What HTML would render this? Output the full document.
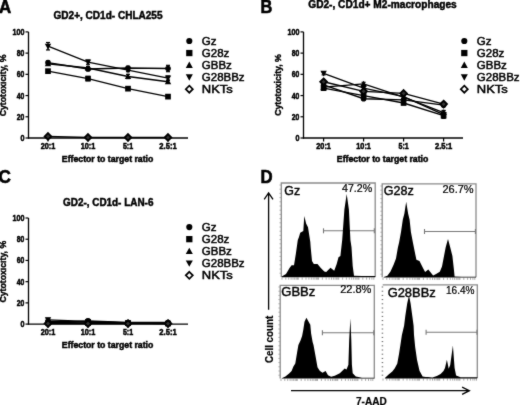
<!DOCTYPE html>
<html><head><meta charset="utf-8"><style>
html,body{margin:0;padding:0;background:#fff;}
body{width:520px;height:405px;overflow:hidden;}
svg{display:block;font-family:"Liberation Sans",sans-serif;}
</style></head><body>
<svg width="520" height="405" viewBox="0 0 520 405">
<defs><filter id="soft" color-interpolation-filters="sRGB" filterUnits="userSpaceOnUse" x="0" y="0" width="520" height="405"><feConvolveMatrix order="3" kernelMatrix="0.02 0.07 0.02 0.07 0.64 0.07 0.02 0.07 0.02" divisor="1" edgeMode="duplicate" preserveAlpha="false"/></filter></defs>
<g filter="url(#soft)">
<rect width="520" height="405" fill="#fff"/>
<text x="-1.0" y="12.6" font-size="18" font-weight="bold" text-anchor="start" textLength="12.2" lengthAdjust="spacingAndGlyphs" stroke="#000" stroke-width="0.6">A</text>
<text x="260.5" y="12.5" font-size="18" font-weight="bold" text-anchor="start" textLength="11.8" lengthAdjust="spacingAndGlyphs" stroke="#000" stroke-width="0.6">B</text>
<text x="-1.4" y="182.6" font-size="18" font-weight="bold" text-anchor="start" textLength="12.4" lengthAdjust="spacingAndGlyphs" stroke="#000" stroke-width="0.6">C</text>
<text x="260.4" y="182.6" font-size="18" font-weight="bold" text-anchor="start" textLength="12.1" lengthAdjust="spacingAndGlyphs" stroke="#000" stroke-width="0.6">D</text>
<text x="108.0" y="18.8" font-size="10.2" font-weight="bold" text-anchor="middle" textLength="109.0" lengthAdjust="spacingAndGlyphs" stroke="#000" stroke-width="0.45">GD2+, CD1d- CHLA255</text>
<line x1="28.5" y1="31.90" x2="28.5" y2="138.60" stroke="#000" stroke-width="1.3"/>
<line x1="25.5" y1="138.00" x2="28.5" y2="138.00" stroke="#000" stroke-width="1.2"/>
<text x="24.4" y="141.00" font-size="8.5" font-weight="bold" text-anchor="end" textLength="4.0" lengthAdjust="spacingAndGlyphs" stroke="#000" stroke-width="0.5">0</text>
<line x1="25.5" y1="116.78" x2="28.5" y2="116.78" stroke="#000" stroke-width="1.2"/>
<text x="24.4" y="119.78" font-size="8.5" font-weight="bold" text-anchor="end" textLength="7.6" lengthAdjust="spacingAndGlyphs" stroke="#000" stroke-width="0.5">20</text>
<line x1="25.5" y1="95.56" x2="28.5" y2="95.56" stroke="#000" stroke-width="1.2"/>
<text x="24.4" y="98.56" font-size="8.5" font-weight="bold" text-anchor="end" textLength="7.6" lengthAdjust="spacingAndGlyphs" stroke="#000" stroke-width="0.5">40</text>
<line x1="25.5" y1="74.34" x2="28.5" y2="74.34" stroke="#000" stroke-width="1.2"/>
<text x="24.4" y="77.34" font-size="8.5" font-weight="bold" text-anchor="end" textLength="7.6" lengthAdjust="spacingAndGlyphs" stroke="#000" stroke-width="0.5">60</text>
<line x1="25.5" y1="53.12" x2="28.5" y2="53.12" stroke="#000" stroke-width="1.2"/>
<text x="24.4" y="56.12" font-size="8.5" font-weight="bold" text-anchor="end" textLength="7.6" lengthAdjust="spacingAndGlyphs" stroke="#000" stroke-width="0.5">80</text>
<line x1="25.5" y1="31.90" x2="28.5" y2="31.90" stroke="#000" stroke-width="1.2"/>
<text x="24.4" y="34.90" font-size="8.5" font-weight="bold" text-anchor="end" textLength="11.9" lengthAdjust="spacingAndGlyphs" stroke="#000" stroke-width="0.5">100</text>
<line x1="27.9" y1="138.00" x2="188" y2="138.00" stroke="#000" stroke-width="1.3"/>
<line x1="48.0" y1="138.00" x2="48.0" y2="141.40" stroke="#000" stroke-width="1.2"/>
<text x="48.0" y="149.20" font-size="8.3" font-weight="bold" text-anchor="middle" textLength="14.6" lengthAdjust="spacingAndGlyphs" stroke="#000" stroke-width="0.5">20:1</text>
<line x1="88.0" y1="138.00" x2="88.0" y2="141.40" stroke="#000" stroke-width="1.2"/>
<text x="88.0" y="149.20" font-size="8.3" font-weight="bold" text-anchor="middle" textLength="14.6" lengthAdjust="spacingAndGlyphs" stroke="#000" stroke-width="0.5">10:1</text>
<line x1="128.0" y1="138.00" x2="128.0" y2="141.40" stroke="#000" stroke-width="1.2"/>
<text x="128.0" y="149.20" font-size="8.3" font-weight="bold" text-anchor="middle" textLength="10.2" lengthAdjust="spacingAndGlyphs" stroke="#000" stroke-width="0.5">5:1</text>
<line x1="168.0" y1="138.00" x2="168.0" y2="141.40" stroke="#000" stroke-width="1.2"/>
<text x="168.0" y="149.20" font-size="8.3" font-weight="bold" text-anchor="middle" textLength="17.3" lengthAdjust="spacingAndGlyphs" stroke="#000" stroke-width="0.5">2.5:1</text>
<text x="107.6" y="161.50" font-size="8.7" font-weight="bold" text-anchor="middle" textLength="91.5" lengthAdjust="spacingAndGlyphs" stroke="#000" stroke-width="0.48">Effector to target ratio</text>
<text x="0" y="0" font-size="9.5" font-weight="bold" text-anchor="middle" textLength="61.7" lengthAdjust="spacingAndGlyphs" stroke="#000" stroke-width="0.42" transform="translate(6.40,85.45) rotate(-90)">Cytotoxicity, %</text>
<polyline points="48.0,62.67 88.0,69.03 128.0,67.97 168.0,68.50" fill="none" stroke="#000" stroke-width="1.35"/>
<polyline points="48.0,71.16 88.0,78.58 128.0,88.66 168.0,96.62" fill="none" stroke="#000" stroke-width="1.35"/>
<polyline points="48.0,63.73 88.0,67.97 128.0,76.46 168.0,81.77" fill="none" stroke="#000" stroke-width="1.35"/>
<polyline points="48.0,46.22 88.0,62.14 128.0,70.10 168.0,78.05" fill="none" stroke="#000" stroke-width="1.35"/>
<polyline points="48.0,136.41 88.0,137.47 128.0,137.47 168.0,137.47" fill="none" stroke="#000" stroke-width="1.35"/>
<line x1="48.0" y1="61.08" x2="48.0" y2="64.26" stroke="#000" stroke-width="1.3"/>
<line x1="46.0" y1="61.08" x2="50.0" y2="61.08" stroke="#000" stroke-width="1.2"/>
<line x1="46.0" y1="64.26" x2="50.0" y2="64.26" stroke="#000" stroke-width="1.2"/>
<circle cx="48.0" cy="62.66900000000001" r="2.80" fill="#000"/>
<line x1="88.0" y1="67.44" x2="88.0" y2="70.63" stroke="#000" stroke-width="1.3"/>
<line x1="86.0" y1="67.44" x2="90.0" y2="67.44" stroke="#000" stroke-width="1.2"/>
<line x1="86.0" y1="70.63" x2="90.0" y2="70.63" stroke="#000" stroke-width="1.2"/>
<circle cx="88.0" cy="69.035" r="2.80" fill="#000"/>
<line x1="128.0" y1="66.38" x2="128.0" y2="69.57" stroke="#000" stroke-width="1.3"/>
<line x1="126.0" y1="66.38" x2="130.0" y2="66.38" stroke="#000" stroke-width="1.2"/>
<line x1="126.0" y1="69.57" x2="130.0" y2="69.57" stroke="#000" stroke-width="1.2"/>
<circle cx="128.0" cy="67.974" r="2.80" fill="#000"/>
<line x1="168.0" y1="65.32" x2="168.0" y2="71.69" stroke="#000" stroke-width="1.3"/>
<line x1="166.0" y1="65.32" x2="170.0" y2="65.32" stroke="#000" stroke-width="1.2"/>
<line x1="166.0" y1="71.69" x2="170.0" y2="71.69" stroke="#000" stroke-width="1.2"/>
<circle cx="168.0" cy="68.50450000000001" r="2.80" fill="#000"/>
<line x1="48.0" y1="69.57" x2="48.0" y2="72.75" stroke="#000" stroke-width="1.3"/>
<line x1="46.0" y1="69.57" x2="50.0" y2="69.57" stroke="#000" stroke-width="1.2"/>
<line x1="46.0" y1="72.75" x2="50.0" y2="72.75" stroke="#000" stroke-width="1.2"/>
<rect x="45.15" y="68.31" width="5.70" height="5.70" fill="#000"/>
<line x1="88.0" y1="76.46" x2="88.0" y2="80.71" stroke="#000" stroke-width="1.3"/>
<line x1="86.0" y1="76.46" x2="90.0" y2="76.46" stroke="#000" stroke-width="1.2"/>
<line x1="86.0" y1="80.71" x2="90.0" y2="80.71" stroke="#000" stroke-width="1.2"/>
<rect x="85.15" y="75.73" width="5.70" height="5.70" fill="#000"/>
<line x1="128.0" y1="87.60" x2="128.0" y2="89.72" stroke="#000" stroke-width="1.3"/>
<line x1="126.0" y1="87.60" x2="130.0" y2="87.60" stroke="#000" stroke-width="1.2"/>
<line x1="126.0" y1="89.72" x2="130.0" y2="89.72" stroke="#000" stroke-width="1.2"/>
<rect x="125.15" y="85.81" width="5.70" height="5.70" fill="#000"/>
<line x1="168.0" y1="95.56" x2="168.0" y2="97.68" stroke="#000" stroke-width="1.3"/>
<line x1="166.0" y1="95.56" x2="170.0" y2="95.56" stroke="#000" stroke-width="1.2"/>
<line x1="166.0" y1="97.68" x2="170.0" y2="97.68" stroke="#000" stroke-width="1.2"/>
<rect x="165.15" y="93.77" width="5.70" height="5.70" fill="#000"/>
<line x1="48.0" y1="62.14" x2="48.0" y2="65.32" stroke="#000" stroke-width="1.3"/>
<line x1="46.0" y1="62.14" x2="50.0" y2="62.14" stroke="#000" stroke-width="1.2"/>
<line x1="46.0" y1="65.32" x2="50.0" y2="65.32" stroke="#000" stroke-width="1.2"/>
<path d="M48.00 60.53L51.20 66.29L44.80 66.29Z" fill="#000"/>
<line x1="88.0" y1="66.38" x2="88.0" y2="69.57" stroke="#000" stroke-width="1.3"/>
<line x1="86.0" y1="66.38" x2="90.0" y2="66.38" stroke="#000" stroke-width="1.2"/>
<line x1="86.0" y1="69.57" x2="90.0" y2="69.57" stroke="#000" stroke-width="1.2"/>
<path d="M88.00 64.77L91.20 70.53L84.80 70.53Z" fill="#000"/>
<line x1="128.0" y1="74.34" x2="128.0" y2="78.58" stroke="#000" stroke-width="1.3"/>
<line x1="126.0" y1="74.34" x2="130.0" y2="74.34" stroke="#000" stroke-width="1.2"/>
<line x1="126.0" y1="78.58" x2="130.0" y2="78.58" stroke="#000" stroke-width="1.2"/>
<path d="M128.00 73.26L131.20 79.02L124.80 79.02Z" fill="#000"/>
<line x1="168.0" y1="80.18" x2="168.0" y2="83.36" stroke="#000" stroke-width="1.3"/>
<line x1="166.0" y1="80.18" x2="170.0" y2="80.18" stroke="#000" stroke-width="1.2"/>
<line x1="166.0" y1="83.36" x2="170.0" y2="83.36" stroke="#000" stroke-width="1.2"/>
<path d="M168.00 78.57L171.20 84.33L164.80 84.33Z" fill="#000"/>
<line x1="48.0" y1="42.51" x2="48.0" y2="49.94" stroke="#000" stroke-width="1.3"/>
<line x1="46.0" y1="42.51" x2="50.0" y2="42.51" stroke="#000" stroke-width="1.2"/>
<line x1="46.0" y1="49.94" x2="50.0" y2="49.94" stroke="#000" stroke-width="1.2"/>
<path d="M48.00 49.42L51.20 43.66L44.80 43.66Z" fill="#000"/>
<line x1="88.0" y1="60.02" x2="88.0" y2="64.26" stroke="#000" stroke-width="1.3"/>
<line x1="86.0" y1="60.02" x2="90.0" y2="60.02" stroke="#000" stroke-width="1.2"/>
<line x1="86.0" y1="64.26" x2="90.0" y2="64.26" stroke="#000" stroke-width="1.2"/>
<path d="M88.00 65.34L91.20 59.58L84.80 59.58Z" fill="#000"/>
<line x1="128.0" y1="68.50" x2="128.0" y2="71.69" stroke="#000" stroke-width="1.3"/>
<line x1="126.0" y1="68.50" x2="130.0" y2="68.50" stroke="#000" stroke-width="1.2"/>
<line x1="126.0" y1="71.69" x2="130.0" y2="71.69" stroke="#000" stroke-width="1.2"/>
<path d="M128.00 73.30L131.20 67.54L124.80 67.54Z" fill="#000"/>
<line x1="168.0" y1="75.93" x2="168.0" y2="80.18" stroke="#000" stroke-width="1.3"/>
<line x1="166.0" y1="75.93" x2="170.0" y2="75.93" stroke="#000" stroke-width="1.2"/>
<line x1="166.0" y1="80.18" x2="170.0" y2="80.18" stroke="#000" stroke-width="1.2"/>
<path d="M168.00 81.25L171.20 75.49L164.80 75.49Z" fill="#000"/>
<path d="M48.00 133.11L51.30 136.41L48.00 139.71L44.70 136.41Z" fill="#333" stroke="#000" stroke-width="1.9"/>
<path d="M88.00 134.17L91.30 137.47L88.00 140.77L84.70 137.47Z" fill="#333" stroke="#000" stroke-width="1.9"/>
<path d="M128.00 134.17L131.30 137.47L128.00 140.77L124.70 137.47Z" fill="#333" stroke="#000" stroke-width="1.9"/>
<path d="M168.00 134.17L171.30 137.47L168.00 140.77L164.70 137.47Z" fill="#333" stroke="#000" stroke-width="1.9"/>
<circle cx="189.3" cy="41.0" r="3.08" fill="#000"/>
<text x="201.8" y="45.00" font-size="11.5" text-anchor="start" stroke="#000" stroke-width="0.48">Gz</text>
<rect x="186.17" y="49.91" width="6.27" height="6.27" fill="#000"/>
<text x="201.8" y="57.05" font-size="11.5" text-anchor="start" stroke="#000" stroke-width="0.48">G28z</text>
<path d="M189.30 61.58L192.82 67.92L185.78 67.92Z" fill="#000"/>
<text x="201.8" y="69.10" font-size="11.5" text-anchor="start" stroke="#000" stroke-width="0.48">GBBz</text>
<path d="M189.30 80.67L192.82 74.33L185.78 74.33Z" fill="#000"/>
<text x="201.8" y="81.15" font-size="11.5" text-anchor="start" stroke="#000" stroke-width="0.48">G28BBz</text>
<path d="M189.30 85.68L192.82 89.20L189.30 92.72L185.78 89.20Z" fill="#fff" stroke="#000" stroke-width="1.7"/>
<text x="201.8" y="93.20" font-size="11.5" text-anchor="start" textLength="31.0" lengthAdjust="spacingAndGlyphs" stroke="#000" stroke-width="0.48">NKTs</text>
<text x="382.5" y="8.0" font-size="10.2" font-weight="bold" text-anchor="middle" textLength="148.5" lengthAdjust="spacingAndGlyphs" stroke="#000" stroke-width="0.45">GD2-, CD1d+ M2-macrophages</text>
<line x1="303.5" y1="31.90" x2="303.5" y2="138.60" stroke="#000" stroke-width="1.3"/>
<line x1="300.5" y1="138.00" x2="303.5" y2="138.00" stroke="#000" stroke-width="1.2"/>
<text x="299.4" y="141.00" font-size="8.5" font-weight="bold" text-anchor="end" textLength="4.0" lengthAdjust="spacingAndGlyphs" stroke="#000" stroke-width="0.5">0</text>
<line x1="300.5" y1="116.78" x2="303.5" y2="116.78" stroke="#000" stroke-width="1.2"/>
<text x="299.4" y="119.78" font-size="8.5" font-weight="bold" text-anchor="end" textLength="7.6" lengthAdjust="spacingAndGlyphs" stroke="#000" stroke-width="0.5">20</text>
<line x1="300.5" y1="95.56" x2="303.5" y2="95.56" stroke="#000" stroke-width="1.2"/>
<text x="299.4" y="98.56" font-size="8.5" font-weight="bold" text-anchor="end" textLength="7.6" lengthAdjust="spacingAndGlyphs" stroke="#000" stroke-width="0.5">40</text>
<line x1="300.5" y1="74.34" x2="303.5" y2="74.34" stroke="#000" stroke-width="1.2"/>
<text x="299.4" y="77.34" font-size="8.5" font-weight="bold" text-anchor="end" textLength="7.6" lengthAdjust="spacingAndGlyphs" stroke="#000" stroke-width="0.5">60</text>
<line x1="300.5" y1="53.12" x2="303.5" y2="53.12" stroke="#000" stroke-width="1.2"/>
<text x="299.4" y="56.12" font-size="8.5" font-weight="bold" text-anchor="end" textLength="7.6" lengthAdjust="spacingAndGlyphs" stroke="#000" stroke-width="0.5">80</text>
<line x1="300.5" y1="31.90" x2="303.5" y2="31.90" stroke="#000" stroke-width="1.2"/>
<text x="299.4" y="34.90" font-size="8.5" font-weight="bold" text-anchor="end" textLength="11.9" lengthAdjust="spacingAndGlyphs" stroke="#000" stroke-width="0.5">100</text>
<line x1="302.9" y1="138.00" x2="463" y2="138.00" stroke="#000" stroke-width="1.3"/>
<line x1="323.6" y1="138.00" x2="323.6" y2="141.40" stroke="#000" stroke-width="1.2"/>
<text x="323.6" y="149.20" font-size="8.3" font-weight="bold" text-anchor="middle" textLength="14.6" lengthAdjust="spacingAndGlyphs" stroke="#000" stroke-width="0.5">20:1</text>
<line x1="363.6" y1="138.00" x2="363.6" y2="141.40" stroke="#000" stroke-width="1.2"/>
<text x="363.6" y="149.20" font-size="8.3" font-weight="bold" text-anchor="middle" textLength="14.6" lengthAdjust="spacingAndGlyphs" stroke="#000" stroke-width="0.5">10:1</text>
<line x1="403.6" y1="138.00" x2="403.6" y2="141.40" stroke="#000" stroke-width="1.2"/>
<text x="403.6" y="149.20" font-size="8.3" font-weight="bold" text-anchor="middle" textLength="10.2" lengthAdjust="spacingAndGlyphs" stroke="#000" stroke-width="0.5">5:1</text>
<line x1="443.6" y1="138.00" x2="443.6" y2="141.40" stroke="#000" stroke-width="1.2"/>
<text x="443.6" y="149.20" font-size="8.3" font-weight="bold" text-anchor="middle" textLength="17.3" lengthAdjust="spacingAndGlyphs" stroke="#000" stroke-width="0.5">2.5:1</text>
<text x="382.6" y="161.50" font-size="8.7" font-weight="bold" text-anchor="middle" textLength="91.5" lengthAdjust="spacingAndGlyphs" stroke="#000" stroke-width="0.48">Effector to target ratio</text>
<text x="0" y="0" font-size="9.5" font-weight="bold" text-anchor="middle" textLength="61.7" lengthAdjust="spacingAndGlyphs" stroke="#000" stroke-width="0.42" transform="translate(281.40,85.00) rotate(-90)">Cytotoxicity, %</text>
<polyline points="323.6,84.95 363.6,98.74 403.6,99.80 443.6,105.11" fill="none" stroke="#000" stroke-width="1.35"/>
<polyline points="323.6,88.13 363.6,95.56 403.6,102.99 443.6,115.72" fill="none" stroke="#000" stroke-width="1.35"/>
<polyline points="323.6,87.07 363.6,83.89 403.6,97.15 443.6,112.54" fill="none" stroke="#000" stroke-width="1.35"/>
<polyline points="323.6,73.28 363.6,88.13 403.6,96.62 443.6,114.66" fill="none" stroke="#000" stroke-width="1.35"/>
<polyline points="323.6,81.77 363.6,91.32 403.6,93.44 443.6,104.05" fill="none" stroke="#000" stroke-width="1.35"/>
<line x1="323.6" y1="82.83" x2="323.6" y2="87.07" stroke="#000" stroke-width="1.3"/>
<line x1="321.6" y1="82.83" x2="325.6" y2="82.83" stroke="#000" stroke-width="1.2"/>
<line x1="321.6" y1="87.07" x2="325.6" y2="87.07" stroke="#000" stroke-width="1.2"/>
<circle cx="323.6" cy="84.95" r="2.80" fill="#000"/>
<line x1="363.6" y1="97.15" x2="363.6" y2="100.33" stroke="#000" stroke-width="1.3"/>
<line x1="361.6" y1="97.15" x2="365.6" y2="97.15" stroke="#000" stroke-width="1.2"/>
<line x1="361.6" y1="100.33" x2="365.6" y2="100.33" stroke="#000" stroke-width="1.2"/>
<circle cx="363.6" cy="98.743" r="2.80" fill="#000"/>
<line x1="403.6" y1="98.21" x2="403.6" y2="101.40" stroke="#000" stroke-width="1.3"/>
<line x1="401.6" y1="98.21" x2="405.6" y2="98.21" stroke="#000" stroke-width="1.2"/>
<line x1="401.6" y1="101.40" x2="405.6" y2="101.40" stroke="#000" stroke-width="1.2"/>
<circle cx="403.6" cy="99.804" r="2.80" fill="#000"/>
<line x1="443.6" y1="103.52" x2="443.6" y2="106.70" stroke="#000" stroke-width="1.3"/>
<line x1="441.6" y1="103.52" x2="445.6" y2="103.52" stroke="#000" stroke-width="1.2"/>
<line x1="441.6" y1="106.70" x2="445.6" y2="106.70" stroke="#000" stroke-width="1.2"/>
<circle cx="443.6" cy="105.10900000000001" r="2.80" fill="#000"/>
<line x1="323.6" y1="86.01" x2="323.6" y2="90.25" stroke="#000" stroke-width="1.3"/>
<line x1="321.6" y1="86.01" x2="325.6" y2="86.01" stroke="#000" stroke-width="1.2"/>
<line x1="321.6" y1="90.25" x2="325.6" y2="90.25" stroke="#000" stroke-width="1.2"/>
<rect x="320.75" y="85.28" width="5.70" height="5.70" fill="#000"/>
<line x1="363.6" y1="93.97" x2="363.6" y2="97.15" stroke="#000" stroke-width="1.3"/>
<line x1="361.6" y1="93.97" x2="365.6" y2="93.97" stroke="#000" stroke-width="1.2"/>
<line x1="361.6" y1="97.15" x2="365.6" y2="97.15" stroke="#000" stroke-width="1.2"/>
<rect x="360.75" y="92.71" width="5.70" height="5.70" fill="#000"/>
<line x1="403.6" y1="101.40" x2="403.6" y2="104.58" stroke="#000" stroke-width="1.3"/>
<line x1="401.6" y1="101.40" x2="405.6" y2="101.40" stroke="#000" stroke-width="1.2"/>
<line x1="401.6" y1="104.58" x2="405.6" y2="104.58" stroke="#000" stroke-width="1.2"/>
<rect x="400.75" y="100.14" width="5.70" height="5.70" fill="#000"/>
<line x1="443.6" y1="113.60" x2="443.6" y2="117.84" stroke="#000" stroke-width="1.3"/>
<line x1="441.6" y1="113.60" x2="445.6" y2="113.60" stroke="#000" stroke-width="1.2"/>
<line x1="441.6" y1="117.84" x2="445.6" y2="117.84" stroke="#000" stroke-width="1.2"/>
<rect x="440.75" y="112.87" width="5.70" height="5.70" fill="#000"/>
<line x1="323.6" y1="84.95" x2="323.6" y2="89.19" stroke="#000" stroke-width="1.3"/>
<line x1="321.6" y1="84.95" x2="325.6" y2="84.95" stroke="#000" stroke-width="1.2"/>
<line x1="321.6" y1="89.19" x2="325.6" y2="89.19" stroke="#000" stroke-width="1.2"/>
<path d="M323.60 83.87L326.80 89.63L320.40 89.63Z" fill="#000"/>
<line x1="363.6" y1="82.30" x2="363.6" y2="85.48" stroke="#000" stroke-width="1.3"/>
<line x1="361.6" y1="82.30" x2="365.6" y2="82.30" stroke="#000" stroke-width="1.2"/>
<line x1="361.6" y1="85.48" x2="365.6" y2="85.48" stroke="#000" stroke-width="1.2"/>
<path d="M363.60 80.69L366.80 86.45L360.40 86.45Z" fill="#000"/>
<line x1="403.6" y1="95.56" x2="403.6" y2="98.74" stroke="#000" stroke-width="1.3"/>
<line x1="401.6" y1="95.56" x2="405.6" y2="95.56" stroke="#000" stroke-width="1.2"/>
<line x1="401.6" y1="98.74" x2="405.6" y2="98.74" stroke="#000" stroke-width="1.2"/>
<path d="M403.60 93.95L406.80 99.71L400.40 99.71Z" fill="#000"/>
<line x1="443.6" y1="110.41" x2="443.6" y2="114.66" stroke="#000" stroke-width="1.3"/>
<line x1="441.6" y1="110.41" x2="445.6" y2="110.41" stroke="#000" stroke-width="1.2"/>
<line x1="441.6" y1="114.66" x2="445.6" y2="114.66" stroke="#000" stroke-width="1.2"/>
<path d="M443.60 109.34L446.80 115.10L440.40 115.10Z" fill="#000"/>
<line x1="323.6" y1="71.69" x2="323.6" y2="74.87" stroke="#000" stroke-width="1.3"/>
<line x1="321.6" y1="71.69" x2="325.6" y2="71.69" stroke="#000" stroke-width="1.2"/>
<line x1="321.6" y1="74.87" x2="325.6" y2="74.87" stroke="#000" stroke-width="1.2"/>
<path d="M323.60 76.48L326.80 70.72L320.40 70.72Z" fill="#000"/>
<line x1="363.6" y1="86.01" x2="363.6" y2="90.25" stroke="#000" stroke-width="1.3"/>
<line x1="361.6" y1="86.01" x2="365.6" y2="86.01" stroke="#000" stroke-width="1.2"/>
<line x1="361.6" y1="90.25" x2="365.6" y2="90.25" stroke="#000" stroke-width="1.2"/>
<path d="M363.60 91.33L366.80 85.57L360.40 85.57Z" fill="#000"/>
<line x1="403.6" y1="95.03" x2="403.6" y2="98.21" stroke="#000" stroke-width="1.3"/>
<line x1="401.6" y1="95.03" x2="405.6" y2="95.03" stroke="#000" stroke-width="1.2"/>
<line x1="401.6" y1="98.21" x2="405.6" y2="98.21" stroke="#000" stroke-width="1.2"/>
<path d="M403.60 99.82L406.80 94.06L400.40 94.06Z" fill="#000"/>
<line x1="443.6" y1="110.94" x2="443.6" y2="118.37" stroke="#000" stroke-width="1.3"/>
<line x1="441.6" y1="110.94" x2="445.6" y2="110.94" stroke="#000" stroke-width="1.2"/>
<line x1="441.6" y1="118.37" x2="445.6" y2="118.37" stroke="#000" stroke-width="1.2"/>
<path d="M443.60 117.86L446.80 112.10L440.40 112.10Z" fill="#000"/>
<line x1="323.6" y1="80.18" x2="323.6" y2="83.36" stroke="#000" stroke-width="1.3"/>
<line x1="321.6" y1="80.18" x2="325.6" y2="80.18" stroke="#000" stroke-width="1.2"/>
<line x1="321.6" y1="83.36" x2="325.6" y2="83.36" stroke="#000" stroke-width="1.2"/>
<path d="M323.60 78.47L326.90 81.77L323.60 85.07L320.30 81.77Z" fill="#333" stroke="#000" stroke-width="1.9"/>
<line x1="363.6" y1="89.72" x2="363.6" y2="92.91" stroke="#000" stroke-width="1.3"/>
<line x1="361.6" y1="89.72" x2="365.6" y2="89.72" stroke="#000" stroke-width="1.2"/>
<line x1="361.6" y1="92.91" x2="365.6" y2="92.91" stroke="#000" stroke-width="1.2"/>
<path d="M363.60 88.02L366.90 91.32L363.60 94.62L360.30 91.32Z" fill="#333" stroke="#000" stroke-width="1.9"/>
<line x1="403.6" y1="91.85" x2="403.6" y2="95.03" stroke="#000" stroke-width="1.3"/>
<line x1="401.6" y1="91.85" x2="405.6" y2="91.85" stroke="#000" stroke-width="1.2"/>
<line x1="401.6" y1="95.03" x2="405.6" y2="95.03" stroke="#000" stroke-width="1.2"/>
<path d="M403.60 90.14L406.90 93.44L403.60 96.74L400.30 93.44Z" fill="#333" stroke="#000" stroke-width="1.9"/>
<line x1="443.6" y1="102.46" x2="443.6" y2="105.64" stroke="#000" stroke-width="1.3"/>
<line x1="441.6" y1="102.46" x2="445.6" y2="102.46" stroke="#000" stroke-width="1.2"/>
<line x1="441.6" y1="105.64" x2="445.6" y2="105.64" stroke="#000" stroke-width="1.2"/>
<path d="M443.60 100.75L446.90 104.05L443.60 107.35L440.30 104.05Z" fill="#333" stroke="#000" stroke-width="1.9"/>
<circle cx="464.3" cy="41.0" r="3.08" fill="#000"/>
<text x="476.8" y="45.00" font-size="11.5" text-anchor="start" stroke="#000" stroke-width="0.48">Gz</text>
<rect x="461.17" y="49.91" width="6.27" height="6.27" fill="#000"/>
<text x="476.8" y="57.05" font-size="11.5" text-anchor="start" stroke="#000" stroke-width="0.48">G28z</text>
<path d="M464.30 61.58L467.82 67.92L460.78 67.92Z" fill="#000"/>
<text x="476.8" y="69.10" font-size="11.5" text-anchor="start" stroke="#000" stroke-width="0.48">GBBz</text>
<path d="M464.30 80.67L467.82 74.33L460.78 74.33Z" fill="#000"/>
<text x="476.8" y="81.15" font-size="11.5" text-anchor="start" stroke="#000" stroke-width="0.48">G28BBz</text>
<path d="M464.30 85.68L467.82 89.20L464.30 92.72L460.78 89.20Z" fill="#fff" stroke="#000" stroke-width="1.7"/>
<text x="476.8" y="93.20" font-size="11.5" text-anchor="start" textLength="31.0" lengthAdjust="spacingAndGlyphs" stroke="#000" stroke-width="0.48">NKTs</text>
<text x="108.2" y="205.9" font-size="10.2" font-weight="bold" text-anchor="middle" textLength="90.4" lengthAdjust="spacingAndGlyphs" stroke="#000" stroke-width="0.45">GD2-, CD1d- LAN-6</text>
<line x1="28.5" y1="218.00" x2="28.5" y2="324.70" stroke="#000" stroke-width="1.3"/>
<line x1="25.5" y1="324.10" x2="28.5" y2="324.10" stroke="#000" stroke-width="1.2"/>
<text x="24.4" y="327.10" font-size="8.5" font-weight="bold" text-anchor="end" textLength="4.0" lengthAdjust="spacingAndGlyphs" stroke="#000" stroke-width="0.5">0</text>
<line x1="25.5" y1="302.88" x2="28.5" y2="302.88" stroke="#000" stroke-width="1.2"/>
<text x="24.4" y="305.88" font-size="8.5" font-weight="bold" text-anchor="end" textLength="7.6" lengthAdjust="spacingAndGlyphs" stroke="#000" stroke-width="0.5">20</text>
<line x1="25.5" y1="281.66" x2="28.5" y2="281.66" stroke="#000" stroke-width="1.2"/>
<text x="24.4" y="284.66" font-size="8.5" font-weight="bold" text-anchor="end" textLength="7.6" lengthAdjust="spacingAndGlyphs" stroke="#000" stroke-width="0.5">40</text>
<line x1="25.5" y1="260.44" x2="28.5" y2="260.44" stroke="#000" stroke-width="1.2"/>
<text x="24.4" y="263.44" font-size="8.5" font-weight="bold" text-anchor="end" textLength="7.6" lengthAdjust="spacingAndGlyphs" stroke="#000" stroke-width="0.5">60</text>
<line x1="25.5" y1="239.22" x2="28.5" y2="239.22" stroke="#000" stroke-width="1.2"/>
<text x="24.4" y="242.22" font-size="8.5" font-weight="bold" text-anchor="end" textLength="7.6" lengthAdjust="spacingAndGlyphs" stroke="#000" stroke-width="0.5">80</text>
<line x1="25.5" y1="218.00" x2="28.5" y2="218.00" stroke="#000" stroke-width="1.2"/>
<text x="24.4" y="221.00" font-size="8.5" font-weight="bold" text-anchor="end" textLength="11.9" lengthAdjust="spacingAndGlyphs" stroke="#000" stroke-width="0.5">100</text>
<line x1="27.9" y1="324.10" x2="188" y2="324.10" stroke="#000" stroke-width="1.3"/>
<line x1="48.0" y1="324.10" x2="48.0" y2="327.50" stroke="#000" stroke-width="1.2"/>
<text x="48.0" y="335.30" font-size="8.3" font-weight="bold" text-anchor="middle" textLength="14.6" lengthAdjust="spacingAndGlyphs" stroke="#000" stroke-width="0.5">20:1</text>
<line x1="88.0" y1="324.10" x2="88.0" y2="327.50" stroke="#000" stroke-width="1.2"/>
<text x="88.0" y="335.30" font-size="8.3" font-weight="bold" text-anchor="middle" textLength="14.6" lengthAdjust="spacingAndGlyphs" stroke="#000" stroke-width="0.5">10:1</text>
<line x1="128.0" y1="324.10" x2="128.0" y2="327.50" stroke="#000" stroke-width="1.2"/>
<text x="128.0" y="335.30" font-size="8.3" font-weight="bold" text-anchor="middle" textLength="10.2" lengthAdjust="spacingAndGlyphs" stroke="#000" stroke-width="0.5">5:1</text>
<line x1="168.0" y1="324.10" x2="168.0" y2="327.50" stroke="#000" stroke-width="1.2"/>
<text x="168.0" y="335.30" font-size="8.3" font-weight="bold" text-anchor="middle" textLength="17.3" lengthAdjust="spacingAndGlyphs" stroke="#000" stroke-width="0.5">2.5:1</text>
<text x="107.6" y="347.60" font-size="8.7" font-weight="bold" text-anchor="middle" textLength="91.5" lengthAdjust="spacingAndGlyphs" stroke="#000" stroke-width="0.48">Effector to target ratio</text>
<text x="0" y="0" font-size="9.5" font-weight="bold" text-anchor="middle" textLength="61.7" lengthAdjust="spacingAndGlyphs" stroke="#000" stroke-width="0.42" transform="translate(6.40,271.70) rotate(-90)">Cytotoxicity, %</text>
<polyline points="48.0,323.04 88.0,320.92 128.0,322.51 168.0,322.51" fill="none" stroke="#000" stroke-width="1.35"/>
<polyline points="48.0,322.51 88.0,323.04 128.0,323.04 168.0,323.57" fill="none" stroke="#000" stroke-width="1.35"/>
<polyline points="48.0,321.45 88.0,321.98 128.0,323.04 168.0,323.04" fill="none" stroke="#000" stroke-width="1.35"/>
<polyline points="48.0,319.86 88.0,321.45 128.0,323.04 168.0,323.57" fill="none" stroke="#000" stroke-width="1.35"/>
<polyline points="48.0,323.57 88.0,323.57 128.0,323.57 168.0,323.57" fill="none" stroke="#000" stroke-width="1.35"/>
<line x1="48.0" y1="321.45" x2="48.0" y2="324.63" stroke="#000" stroke-width="1.3"/>
<line x1="46.0" y1="321.45" x2="50.0" y2="321.45" stroke="#000" stroke-width="1.2"/>
<line x1="46.0" y1="324.63" x2="50.0" y2="324.63" stroke="#000" stroke-width="1.2"/>
<circle cx="48.0" cy="323.03900000000004" r="2.80" fill="#000"/>
<line x1="88.0" y1="319.33" x2="88.0" y2="322.51" stroke="#000" stroke-width="1.3"/>
<line x1="86.0" y1="319.33" x2="90.0" y2="319.33" stroke="#000" stroke-width="1.2"/>
<line x1="86.0" y1="322.51" x2="90.0" y2="322.51" stroke="#000" stroke-width="1.2"/>
<circle cx="88.0" cy="320.91700000000003" r="2.80" fill="#000"/>
<line x1="128.0" y1="321.45" x2="128.0" y2="323.57" stroke="#000" stroke-width="1.3"/>
<line x1="126.0" y1="321.45" x2="130.0" y2="321.45" stroke="#000" stroke-width="1.2"/>
<line x1="126.0" y1="323.57" x2="130.0" y2="323.57" stroke="#000" stroke-width="1.2"/>
<circle cx="128.0" cy="322.5085" r="2.80" fill="#000"/>
<line x1="168.0" y1="321.45" x2="168.0" y2="323.57" stroke="#000" stroke-width="1.3"/>
<line x1="166.0" y1="321.45" x2="170.0" y2="321.45" stroke="#000" stroke-width="1.2"/>
<line x1="166.0" y1="323.57" x2="170.0" y2="323.57" stroke="#000" stroke-width="1.2"/>
<circle cx="168.0" cy="322.5085" r="2.80" fill="#000"/>
<line x1="48.0" y1="321.45" x2="48.0" y2="323.57" stroke="#000" stroke-width="1.3"/>
<line x1="46.0" y1="321.45" x2="50.0" y2="321.45" stroke="#000" stroke-width="1.2"/>
<line x1="46.0" y1="323.57" x2="50.0" y2="323.57" stroke="#000" stroke-width="1.2"/>
<rect x="45.15" y="319.66" width="5.70" height="5.70" fill="#000"/>
<line x1="88.0" y1="321.98" x2="88.0" y2="324.10" stroke="#000" stroke-width="1.3"/>
<line x1="86.0" y1="321.98" x2="90.0" y2="321.98" stroke="#000" stroke-width="1.2"/>
<line x1="86.0" y1="324.10" x2="90.0" y2="324.10" stroke="#000" stroke-width="1.2"/>
<rect x="85.15" y="320.19" width="5.70" height="5.70" fill="#000"/>
<line x1="128.0" y1="321.98" x2="128.0" y2="324.10" stroke="#000" stroke-width="1.3"/>
<line x1="126.0" y1="321.98" x2="130.0" y2="321.98" stroke="#000" stroke-width="1.2"/>
<line x1="126.0" y1="324.10" x2="130.0" y2="324.10" stroke="#000" stroke-width="1.2"/>
<rect x="125.15" y="320.19" width="5.70" height="5.70" fill="#000"/>
<line x1="168.0" y1="322.51" x2="168.0" y2="324.63" stroke="#000" stroke-width="1.3"/>
<line x1="166.0" y1="322.51" x2="170.0" y2="322.51" stroke="#000" stroke-width="1.2"/>
<line x1="166.0" y1="324.63" x2="170.0" y2="324.63" stroke="#000" stroke-width="1.2"/>
<rect x="165.15" y="320.72" width="5.70" height="5.70" fill="#000"/>
<line x1="48.0" y1="320.39" x2="48.0" y2="322.51" stroke="#000" stroke-width="1.3"/>
<line x1="46.0" y1="320.39" x2="50.0" y2="320.39" stroke="#000" stroke-width="1.2"/>
<line x1="46.0" y1="322.51" x2="50.0" y2="322.51" stroke="#000" stroke-width="1.2"/>
<path d="M48.00 318.25L51.20 324.01L44.80 324.01Z" fill="#000"/>
<line x1="88.0" y1="320.92" x2="88.0" y2="323.04" stroke="#000" stroke-width="1.3"/>
<line x1="86.0" y1="320.92" x2="90.0" y2="320.92" stroke="#000" stroke-width="1.2"/>
<line x1="86.0" y1="323.04" x2="90.0" y2="323.04" stroke="#000" stroke-width="1.2"/>
<path d="M88.00 318.78L91.20 324.54L84.80 324.54Z" fill="#000"/>
<line x1="128.0" y1="321.98" x2="128.0" y2="324.10" stroke="#000" stroke-width="1.3"/>
<line x1="126.0" y1="321.98" x2="130.0" y2="321.98" stroke="#000" stroke-width="1.2"/>
<line x1="126.0" y1="324.10" x2="130.0" y2="324.10" stroke="#000" stroke-width="1.2"/>
<path d="M128.00 319.84L131.20 325.60L124.80 325.60Z" fill="#000"/>
<line x1="168.0" y1="321.98" x2="168.0" y2="324.10" stroke="#000" stroke-width="1.3"/>
<line x1="166.0" y1="321.98" x2="170.0" y2="321.98" stroke="#000" stroke-width="1.2"/>
<line x1="166.0" y1="324.10" x2="170.0" y2="324.10" stroke="#000" stroke-width="1.2"/>
<path d="M168.00 319.84L171.20 325.60L164.80 325.60Z" fill="#000"/>
<line x1="48.0" y1="318.26" x2="48.0" y2="321.45" stroke="#000" stroke-width="1.3"/>
<line x1="46.0" y1="318.26" x2="50.0" y2="318.26" stroke="#000" stroke-width="1.2"/>
<line x1="46.0" y1="321.45" x2="50.0" y2="321.45" stroke="#000" stroke-width="1.2"/>
<path d="M48.00 323.06L51.20 317.30L44.80 317.30Z" fill="#000"/>
<line x1="88.0" y1="320.39" x2="88.0" y2="322.51" stroke="#000" stroke-width="1.3"/>
<line x1="86.0" y1="320.39" x2="90.0" y2="320.39" stroke="#000" stroke-width="1.2"/>
<line x1="86.0" y1="322.51" x2="90.0" y2="322.51" stroke="#000" stroke-width="1.2"/>
<path d="M88.00 324.65L91.20 318.89L84.80 318.89Z" fill="#000"/>
<line x1="128.0" y1="321.98" x2="128.0" y2="324.10" stroke="#000" stroke-width="1.3"/>
<line x1="126.0" y1="321.98" x2="130.0" y2="321.98" stroke="#000" stroke-width="1.2"/>
<line x1="126.0" y1="324.10" x2="130.0" y2="324.10" stroke="#000" stroke-width="1.2"/>
<path d="M128.00 326.24L131.20 320.48L124.80 320.48Z" fill="#000"/>
<line x1="168.0" y1="322.51" x2="168.0" y2="324.63" stroke="#000" stroke-width="1.3"/>
<line x1="166.0" y1="322.51" x2="170.0" y2="322.51" stroke="#000" stroke-width="1.2"/>
<line x1="166.0" y1="324.63" x2="170.0" y2="324.63" stroke="#000" stroke-width="1.2"/>
<path d="M168.00 326.77L171.20 321.01L164.80 321.01Z" fill="#000"/>
<path d="M48.00 320.27L51.30 323.57L48.00 326.87L44.70 323.57Z" fill="#333" stroke="#000" stroke-width="1.9"/>
<path d="M88.00 320.27L91.30 323.57L88.00 326.87L84.70 323.57Z" fill="#333" stroke="#000" stroke-width="1.9"/>
<path d="M128.00 320.27L131.30 323.57L128.00 326.87L124.70 323.57Z" fill="#333" stroke="#000" stroke-width="1.9"/>
<path d="M168.00 320.27L171.30 323.57L168.00 326.87L164.70 323.57Z" fill="#333" stroke="#000" stroke-width="1.9"/>
<circle cx="189.3" cy="227.1" r="3.08" fill="#000"/>
<text x="201.8" y="231.10" font-size="11.5" text-anchor="start" stroke="#000" stroke-width="0.48">Gz</text>
<rect x="186.17" y="236.02" width="6.27" height="6.27" fill="#000"/>
<text x="201.8" y="243.15" font-size="11.5" text-anchor="start" stroke="#000" stroke-width="0.48">G28z</text>
<path d="M189.30 247.68L192.82 254.02L185.78 254.02Z" fill="#000"/>
<text x="201.8" y="255.20" font-size="11.5" text-anchor="start" stroke="#000" stroke-width="0.48">GBBz</text>
<path d="M189.30 266.77L192.82 260.43L185.78 260.43Z" fill="#000"/>
<text x="201.8" y="267.25" font-size="11.5" text-anchor="start" stroke="#000" stroke-width="0.48">G28BBz</text>
<path d="M189.30 271.78L192.82 275.30L189.30 278.82L185.78 275.30Z" fill="#fff" stroke="#000" stroke-width="1.7"/>
<text x="201.8" y="279.30" font-size="11.5" text-anchor="start" textLength="31.0" lengthAdjust="spacingAndGlyphs" stroke="#000" stroke-width="0.48">NKTs</text>
<path d="M281.3 277V183.0H375.2V277" fill="none" stroke="#8a8a8a" stroke-width="1.3"/>
<path d="M281.3 185.0h-1.8M281.3 189.2h-1.8M281.3 193.4h-1.8M281.3 197.6h-1.8M281.3 201.8h-1.8M281.3 206.0h-1.8M281.3 210.2h-1.8M281.3 214.4h-1.8M281.3 218.6h-1.8M281.3 222.8h-1.8M281.3 227.0h-1.8M281.3 231.2h-1.8M281.3 235.4h-1.8M281.3 239.6h-1.8M281.3 243.8h-1.8M281.3 248.0h-1.8M281.3 252.2h-1.8M281.3 256.4h-1.8M281.3 260.6h-1.8M281.3 264.8h-1.8M281.3 269.0h-1.8M281.3 273.2h-1.8" stroke="#999" stroke-width="0.8"/>
<path d="M282.0 277.5v2.2M285.8 277.5v2.2M288.7 277.5v2.2M291.1 277.5v2.2M293.0 277.5v2.2M294.7 277.5v2.2M296.2 277.5v2.2M297.4 277.5v2.2M298.3 277.5v2.2M302.2 277.5v2.2M306.0 277.5v2.2M308.9 277.5v2.2M311.3 277.5v2.2M313.2 277.5v2.2M314.9 277.5v2.2M316.4 277.5v2.2M317.6 277.5v2.2M318.5 277.5v2.2M322.4 277.5v2.2M326.2 277.5v2.2M329.1 277.5v2.2M331.5 277.5v2.2M333.4 277.5v2.2M335.1 277.5v2.2M336.6 277.5v2.2M337.8 277.5v2.2M338.7 277.5v2.2M342.6 277.5v2.2M346.4 277.5v2.2M349.3 277.5v2.2M351.7 277.5v2.2M353.6 277.5v2.2M355.3 277.5v2.2M356.8 277.5v2.2M358.0 277.5v2.2M358.9 277.5v2.2M362.8 277.5v2.2M366.6 277.5v2.2M369.5 277.5v2.2M371.9 277.5v2.2M373.8 277.5v2.2" stroke="#888" stroke-width="0.7"/>
<line x1="323.5" y1="230.8" x2="374.3" y2="230.8" stroke="#777" stroke-width="1.1"/>
<line x1="323.5" y1="228.3" x2="323.5" y2="233.3" stroke="#777" stroke-width="1.1"/>
<line x1="374.3" y1="228.3" x2="374.3" y2="233.3" stroke="#777" stroke-width="1.1"/>
<path d="M281.7,276.5 L286,274 L289.7,267.8 L291.6,265.3 L294,265.3 L295.9,253.6 L297.8,240 L299,237 L300.2,232.8 L303.3,231 L304.3,215.9 L306.1,223.5 L308,227.2 L310.3,242 L310.7,247.4 L312,261 L313.8,264 L317.5,264 L320.6,267.8 L324.3,271.5 L326.2,272 L330.5,267.7 L334.2,270.8 L336.7,264 L338.5,257.2 L340.4,256 L342.2,240 L344.4,209.6 L346.7,194.1 L348.9,209.6 L350.4,240 L351.5,247.3 L352.7,265.9 L354,275.7 L362,276.1 L375.2,276.1 L375.2,277.2 L281.7,277.2 Z" fill="#000"/>
<text x="284.3" y="194.6" font-size="12" text-anchor="start" textLength="15.8" lengthAdjust="spacingAndGlyphs" stroke="#000" stroke-width="0.42">Gz</text>
<text x="372.2" y="191.9" font-size="10.5" text-anchor="end" textLength="30.2" lengthAdjust="spacingAndGlyphs" stroke="#000" stroke-width="0.22">47.2%</text>
<path d="M382.2 277.2V183.8H476.0V277.2" fill="none" stroke="#8a8a8a" stroke-width="1.3"/>
<path d="M382.2 186.0h-1.8M382.2 190.2h-1.8M382.2 194.4h-1.8M382.2 198.6h-1.8M382.2 202.8h-1.8M382.2 207.0h-1.8M382.2 211.2h-1.8M382.2 215.4h-1.8M382.2 219.6h-1.8M382.2 223.8h-1.8M382.2 228.0h-1.8M382.2 232.2h-1.8M382.2 236.4h-1.8M382.2 240.6h-1.8M382.2 244.8h-1.8M382.2 249.0h-1.8M382.2 253.2h-1.8M382.2 257.4h-1.8M382.2 261.6h-1.8M382.2 265.8h-1.8M382.2 270.0h-1.8M382.2 274.2h-1.8" stroke="#999" stroke-width="0.8"/>
<path d="M383.0 277.7v2.2M386.8 277.7v2.2M389.7 277.7v2.2M392.1 277.7v2.2M394.0 277.7v2.2M395.7 277.7v2.2M397.2 277.7v2.2M398.4 277.7v2.2M399.3 277.7v2.2M403.2 277.7v2.2M407.0 277.7v2.2M409.9 277.7v2.2M412.3 277.7v2.2M414.2 277.7v2.2M415.9 277.7v2.2M417.4 277.7v2.2M418.6 277.7v2.2M419.5 277.7v2.2M423.4 277.7v2.2M427.2 277.7v2.2M430.1 277.7v2.2M432.5 277.7v2.2M434.4 277.7v2.2M436.1 277.7v2.2M437.6 277.7v2.2M438.8 277.7v2.2M439.7 277.7v2.2M443.6 277.7v2.2M447.4 277.7v2.2M450.3 277.7v2.2M452.7 277.7v2.2M454.6 277.7v2.2M456.3 277.7v2.2M457.8 277.7v2.2M459.0 277.7v2.2M459.9 277.7v2.2M463.8 277.7v2.2M467.6 277.7v2.2M470.5 277.7v2.2M472.9 277.7v2.2M474.8 277.7v2.2" stroke="#888" stroke-width="0.7"/>
<line x1="424.5" y1="231.5" x2="475.4" y2="231.5" stroke="#777" stroke-width="1.1"/>
<line x1="424.5" y1="229.0" x2="424.5" y2="234.0" stroke="#777" stroke-width="1.1"/>
<line x1="475.4" y1="229.0" x2="475.4" y2="234.0" stroke="#777" stroke-width="1.1"/>
<path d="M383.7,277 L387.4,275.8 L390.5,271.5 L393.6,264.7 L396,258.5 L397.9,247.4 L399.1,242.5 L401,232 L402.8,219.7 L404.4,213.5 L406.2,201.8 L408.1,213.5 L409.6,219.7 L410.9,232 L413,243 L414.6,251.1 L416.4,259.8 L419.5,261 L422.6,267.2 L425.1,272.1 L428.3,269.5 L433.1,275.4 L436.1,273.9 L439.8,271.7 L442,266.5 L444.3,254.6 L445.7,247.2 L448,239.1 L450.2,247.2 L452.4,256.1 L453.9,269.4 L454.6,276.6 L462,276.8 L476.0,276.8 L476.0,277.5 L383.7,277.5 Z" fill="#000"/>
<text x="383.8" y="195.0" font-size="12" text-anchor="start" textLength="30.0" lengthAdjust="spacingAndGlyphs" stroke="#000" stroke-width="0.42">G28z</text>
<text x="473.6" y="193.0" font-size="10.5" text-anchor="end" textLength="31.2" lengthAdjust="spacingAndGlyphs" stroke="#000" stroke-width="0.22">26.7%</text>
<path d="M280.2 378.4V285.3H374.3V378.4" fill="none" stroke="#8a8a8a" stroke-width="1.3"/>
<path d="M280.2 287.0h-1.8M280.2 291.2h-1.8M280.2 295.4h-1.8M280.2 299.6h-1.8M280.2 303.8h-1.8M280.2 308.0h-1.8M280.2 312.2h-1.8M280.2 316.4h-1.8M280.2 320.6h-1.8M280.2 324.8h-1.8M280.2 329.0h-1.8M280.2 333.2h-1.8M280.2 337.4h-1.8M280.2 341.6h-1.8M280.2 345.8h-1.8M280.2 350.0h-1.8M280.2 354.2h-1.8M280.2 358.4h-1.8M280.2 362.6h-1.8M280.2 366.8h-1.8M280.2 371.0h-1.8M280.2 375.2h-1.8" stroke="#999" stroke-width="0.8"/>
<path d="M281.0 378.8v2.2M284.8 378.8v2.2M287.7 378.8v2.2M290.1 378.8v2.2M292.0 378.8v2.2M293.7 378.8v2.2M295.2 378.8v2.2M296.4 378.8v2.2M297.3 378.8v2.2M301.2 378.8v2.2M305.0 378.8v2.2M307.9 378.8v2.2M310.3 378.8v2.2M312.2 378.8v2.2M313.9 378.8v2.2M315.4 378.8v2.2M316.6 378.8v2.2M317.5 378.8v2.2M321.4 378.8v2.2M325.2 378.8v2.2M328.1 378.8v2.2M330.5 378.8v2.2M332.4 378.8v2.2M334.1 378.8v2.2M335.6 378.8v2.2M336.8 378.8v2.2M337.7 378.8v2.2M341.6 378.8v2.2M345.4 378.8v2.2M348.3 378.8v2.2M350.7 378.8v2.2M352.6 378.8v2.2M354.3 378.8v2.2M355.8 378.8v2.2M357.0 378.8v2.2M357.9 378.8v2.2M361.8 378.8v2.2M365.6 378.8v2.2M368.5 378.8v2.2M370.9 378.8v2.2M372.8 378.8v2.2" stroke="#888" stroke-width="0.7"/>
<line x1="322.4" y1="332.8" x2="373.8" y2="332.8" stroke="#777" stroke-width="1.1"/>
<line x1="322.4" y1="330.3" x2="322.4" y2="335.3" stroke="#777" stroke-width="1.1"/>
<line x1="373.8" y1="330.3" x2="373.8" y2="335.3" stroke="#777" stroke-width="1.1"/>
<path d="M281.7,378.3 L285.4,376.5 L289.1,373.4 L291.6,370.9 L293.4,366.6 L295.3,363.5 L297.1,352.4 L298.4,345 L300.5,340.5 L302.1,335.9 L303.3,329.7 L304.5,321.7 L306.4,317.7 L308.9,322.3 L310.3,324.8 L311.1,333.4 L312.6,342 L313.5,345 L315.5,356 L317.5,367.2 L319.4,370.3 L320,370.9 L321.8,372.2 L322.5,372.7 L325.6,370.9 L328,375.2 L331.1,376.8 L334.8,375.8 L339.8,373.3 L344.7,368.6 L346.5,369.6 L348.4,364.7 L349.2,340 L350.4,318.2 L351.3,340 L351.9,364.7 L352.7,373.3 L355.8,376.4 L362,377.7 L374.3,377.7 L374.3,378.6 L281.7,378.6 Z" fill="#000"/>
<text x="281.3" y="295.9" font-size="12" text-anchor="start" textLength="34.0" lengthAdjust="spacingAndGlyphs" stroke="#000" stroke-width="0.42">GBBz</text>
<text x="371.4" y="293.3" font-size="10.5" text-anchor="end" textLength="31.2" lengthAdjust="spacingAndGlyphs" stroke="#000" stroke-width="0.22">22.8%</text>
<path d="M382.7 284.9H477.3V378.0" fill="none" stroke="#8a8a8a" stroke-width="1.3"/>
<path d="M383.2 287.0h-1.5M383.2 291.2h-1.5M383.2 295.4h-1.5M383.2 299.6h-1.5M383.2 303.8h-1.5M383.2 308.0h-1.5M383.2 312.2h-1.5M383.2 316.4h-1.5M383.2 320.6h-1.5M383.2 324.8h-1.5M383.2 329.0h-1.5M383.2 333.2h-1.5M383.2 337.4h-1.5M383.2 341.6h-1.5M383.2 345.8h-1.5M383.2 350.0h-1.5M383.2 354.2h-1.5M383.2 358.4h-1.5M383.2 362.6h-1.5M383.2 366.8h-1.5M383.2 371.0h-1.5M383.2 375.2h-1.5" stroke="#666" stroke-width="1.0"/>
<path d="M383.0 378.5v2.2M386.8 378.5v2.2M389.7 378.5v2.2M392.1 378.5v2.2M394.0 378.5v2.2M395.7 378.5v2.2M397.2 378.5v2.2M398.4 378.5v2.2M399.3 378.5v2.2M403.2 378.5v2.2M407.0 378.5v2.2M409.9 378.5v2.2M412.3 378.5v2.2M414.2 378.5v2.2M415.9 378.5v2.2M417.4 378.5v2.2M418.6 378.5v2.2M419.5 378.5v2.2M423.4 378.5v2.2M427.2 378.5v2.2M430.1 378.5v2.2M432.5 378.5v2.2M434.4 378.5v2.2M436.1 378.5v2.2M437.6 378.5v2.2M438.8 378.5v2.2M439.7 378.5v2.2M443.6 378.5v2.2M447.4 378.5v2.2M450.3 378.5v2.2M452.7 378.5v2.2M454.6 378.5v2.2M456.3 378.5v2.2M457.8 378.5v2.2M459.0 378.5v2.2M459.9 378.5v2.2M463.8 378.5v2.2M467.6 378.5v2.2M470.5 378.5v2.2M472.9 378.5v2.2M474.8 378.5v2.2M476.5 378.5v2.2" stroke="#888" stroke-width="0.7"/>
<text x="387.7" y="296.7" font-size="12" text-anchor="start" textLength="48.0" lengthAdjust="spacingAndGlyphs" stroke="#000" stroke-width="0.42">G28BBz</text>
<line x1="426.1" y1="332.2" x2="477.0" y2="332.2" stroke="#777" stroke-width="1.1"/>
<line x1="426.1" y1="329.7" x2="426.1" y2="334.7" stroke="#777" stroke-width="1.1"/>
<line x1="477.0" y1="329.7" x2="477.0" y2="334.7" stroke="#777" stroke-width="1.1"/>
<path d="M384.9,378 L388.6,374.5 L392.3,371.4 L394.8,368.3 L397.3,363.4 L399.1,353.5 L400.4,344.9 L401.9,335 L404.1,325.7 L405.3,315.9 L407.2,303.5 L409,295.5 L410.6,303.5 L412.3,315.9 L413.6,325.7 L414,335 L415.2,347.3 L417,359.7 L419.5,370.8 L422.6,376.4 L425.7,377 L428,377 L432.4,377.6 L436.9,376.1 L440.6,373.9 L443.5,370.9 L445,368 L446.9,359.8 L448.7,368.7 L450.2,365 L452.9,345.4 L454.6,368 L456.1,375.4 L460.6,377.3 L477.3,377.3 L477.3,378.4 L384.9,378.4 Z" fill="#000"/>
<text x="474.5" y="293.5" font-size="10.5" text-anchor="end" textLength="28.5" lengthAdjust="spacingAndGlyphs" stroke="#000" stroke-width="0.22">16.4%</text>
<path d="M268.6 309.8V193.2M264.2 199.3L268.6 192.9L273.0 199.3" fill="none" stroke="#000" stroke-width="1.3"/>
<path d="M291 390.7H469M462.1 387.1L469.4 390.7L462.1 394.4" fill="none" stroke="#000" stroke-width="1.3"/>
<text x="0" y="0" font-size="10.4" font-weight="bold" text-anchor="middle" textLength="47.4" lengthAdjust="spacingAndGlyphs" stroke="#000" stroke-width="0.2" transform="translate(272.6,339.4) rotate(-90)">Cell count</text>
<text x="371.4" y="405.4" font-size="10.4" font-weight="bold" text-anchor="middle" textLength="30.8" lengthAdjust="spacingAndGlyphs" stroke="#000" stroke-width="0.2">7-AAD</text>
</g>
</svg>
</body></html>
